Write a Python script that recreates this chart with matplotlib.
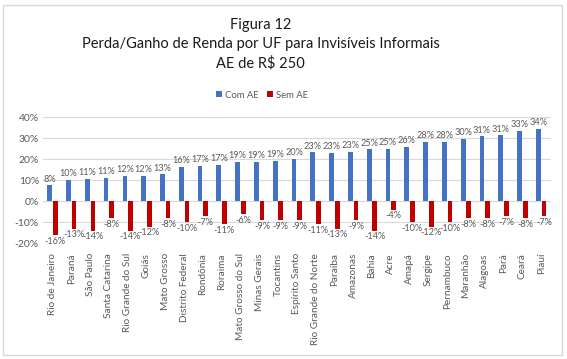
import numpy as np
import matplotlib.pyplot as plt
from matplotlib.patches import Rectangle

plt.rcParams['font.family'] = ['Lato', 'DejaVu Sans']

ufs = ['Rio de Janeiro', 'Paraná', 'São Paulo', 'Santa Catarina', 'Rio Grande do Sul',
       'Goiás', 'Mato Grosso', 'Distrito Federal', 'Rondônia', 'Roraima',
       'Mato Grosso do Sul', 'Minas Gerais', 'Tocantins', 'Espírito Santo',
       'Rio Grande do Norte', 'Paraíba', 'Amazonas', 'Bahia', 'Acre', 'Amapá',
       'Sergipe', 'Pernambuco', 'Maranhão', 'Alagoas', 'Pará', 'Ceará', 'Piauí']
com_ae = [7.6, 10.2, 10.7, 11.2, 12.0, 12.0, 12.8, 16.3, 16.8, 17.2, 18.6, 18.7, 19.1,
          20.0, 23.2, 23.0, 23.4, 24.6, 24.8, 25.7, 28.2, 28.3, 29.6, 30.9, 31.3, 33.4, 34.4]
sem_ae = [-16, -13, -14, -8, -14, -12, -8, -10, -7, -11, -6, -9, -9, -9, -11, -13, -9,
          -14, -4, -10, -12, -10, -8, -8, -7, -8, -7]

azul = '#4472C4'
vermelho = '#C00000'
cinza = '#595959'

fig = plt.figure(figsize=(5.67, 3.59), dpi=100)
ax = fig.add_axes([0.076, 0.322, 0.895, 0.352])

x = np.arange(len(ufs))
w = 0.25
b1 = ax.bar(x - 0.15, com_ae, w, color=azul, label='Com AE', zorder=3)
b2 = ax.bar(x + 0.15, sem_ae, w, color=vermelho, label='Sem AE', zorder=3)

for xi, v in zip(x, com_ae):
    ax.text(xi - 0.15, v + 0.8, f'{round(v):.0f}%', ha='center', va='bottom',
            fontsize=6.6, color=cinza)
for xi, v in zip(x, sem_ae):
    ax.text(xi + 0.15, v - 0.8, f'{v:.0f}%', ha='center', va='top',
            fontsize=6.6, color=cinza)

ax.set_xlim(-0.5, len(ufs) - 0.5)
ax.set_ylim(-20, 40)
ax.set_yticks(range(-20, 41, 10))
ax.set_yticklabels([f'{t}%' for t in range(-20, 41, 10)], fontsize=7.5, color=cinza)
ax.set_xticks(x)
ax.set_xticklabels(ufs, rotation=90, fontsize=7.2, color=cinza)
ax.tick_params(axis='both', length=0, pad=3)
ax.tick_params(axis='x', pad=7)
ax.grid(axis='y', color='#D9D9D9', linewidth=0.8, zorder=0)
ax.axhline(0, color='#D9D9D9', linewidth=0.8, zorder=1)
for s in ax.spines.values():
    s.set_visible(False)

fig.text(0.46, 0.95, 'Figura 12\nPerda/Ganho de Renda por UF para Invisíveis Informais\nAE de R$ 250',
         ha='center', va='top', fontsize=10.5, color='#1a1a1a', linespacing=1.45)
fig.legend(handles=[b1, b2], loc='center', bbox_to_anchor=(0.462, 0.735), ncol=2,
           frameon=False, fontsize=6.8, handlelength=0.6, handleheight=0.6,
           handletextpad=0.3, columnspacing=0.9, labelcolor=cinza)

fig.patches.append(Rectangle((0.006, 0.012), 0.986, 0.975, transform=fig.transFigure,
                             fill=False, edgecolor='#D9D9D9', linewidth=1))

fig.savefig('out.png', dpi=100, facecolor='white')
